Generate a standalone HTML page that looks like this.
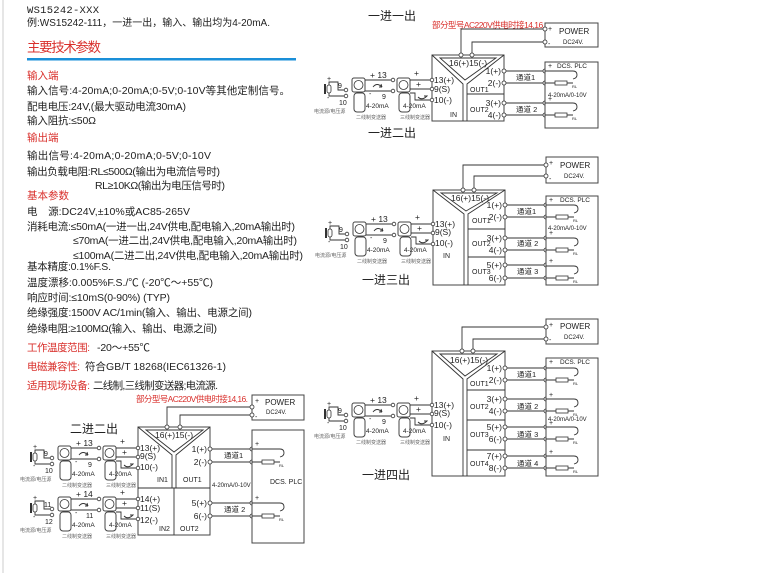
<!DOCTYPE html>
<html><head><meta charset="utf-8"><style>
html,body{margin:0;padding:0;background:#fff;}
svg{display:block;}
text{font-family:"Liberation Sans","Noto Sans CJK SC",sans-serif;fill:#222;}
.r{fill:#d9302c;}
.w{fill:none;stroke:#333;stroke-width:0.9;}
.c{fill:#fff;stroke:#333;stroke-width:0.8;}
.b{fill:#fff;stroke:#444;stroke-width:1;}
.t{font-size:8.5px;}
.s{font-size:7px;}
.xs{font-size:5px;fill:#666;}
.ch{font-size:7.5px;}
</style></head><body>
<svg width="771" height="573" viewBox="0 0 771 573" xmlns="http://www.w3.org/2000/svg">
<line x1="3" y1="0" x2="3" y2="573" stroke="#ccc" stroke-width="1"/>

<!-- LEFT TEXT -->
<text x="27" y="13" style="font-family:'Liberation Mono',monospace;font-size:10.5px" textLength="72">WS15242-XXX</text>
<text x="27" y="26" style="font-size:10px" textLength="243">例:WS15242-111，一进一出，输入、输出均为4-20mA.</text>
<text x="27" y="52" class="r" style="font-size:13.5px" textLength="74">主要技术参数</text>
<rect x="27" y="58" width="269" height="2.5" fill="#1a8fd8"/>
<g style="font-size:10.5px">
<text x="27" y="79" class="r">输入端</text>
<text x="27" y="94" textLength="263">输入信号:4-20mA;0-20mA;0-5V;0-10V等其他定制信号。</text>
<text x="27" y="110" textLength="159">配电电压:24V,(最大驱动电流30mA)</text>
<text x="27" y="124" textLength="69">输入阻抗:≤50Ω</text>
<text x="27" y="141" class="r">输出端</text>
<text x="27" y="159" textLength="184">输出信号:4-20mA;0-20mA;0-5V;0-10V</text>
<text x="27" y="175" textLength="193">输出负载电阻:RL≤500Ω(输出为电流信号时)</text>
<text x="95" y="189" textLength="130">RL≥10KΩ(输出为电压信号时)</text>
<text x="27" y="199" class="r">基本参数</text>
<text x="27" y="215" textLength="163">电　源:DC24V,±10%或AC85-265V</text>
<text x="27" y="230" textLength="268">消耗电流:≤50mA(一进一出,24V供电,配电输入,20mA输出时)</text>
<text x="73" y="244" textLength="224">≤70mA(一进二出,24V供电,配电输入,20mA输出时)</text>
<text x="73" y="259" textLength="230">≤100mA(二进二出,24V供电,配电输入,20mA输出时)</text>
<text x="27" y="270" textLength="84">基本精度:0.1%F.S.</text>
<text x="27" y="286" textLength="186">温度漂移:0.005%F.S./℃ (-20℃～+55℃)</text>
<text x="27" y="301" textLength="143">响应时间:≤10mS(0-90%) (TYP)</text>
<text x="27" y="316" textLength="225">绝缘强度:1500V AC/1min(输入、输出、电源之间)</text>
<text x="27" y="332" textLength="190">绝缘电阻:≥100MΩ(输入、输出、电源之间)</text>
<text x="27" y="351" class="r" textLength="63">工作温度范围:</text>
<text x="97" y="351" textLength="53">-20～+55℃</text>
<text x="27" y="370" class="r" textLength="53">电磁兼容性:</text>
<text x="85" y="370" textLength="141">符合GB/T 18268(IEC61326-1)</text>
<text x="27" y="389" class="r" textLength="63">适用现场设备:</text>
<text x="93" y="389" textLength="125">二线制,三线制变送器;电流源.</text>
</g>

<!-- ================= DIAGRAM 1 ================= -->
<text x="368" y="20" style="font-size:12px">一进一出</text>
<text x="432" y="28" class="r" style="font-size:8.5px" textLength="113">部分型号AC220V供电时接14,16.</text>
<rect x="545" y="23" width="53" height="24" class="b"/>
<text x="548" y="31" class="s">+</text><text x="559" y="34" style="font-size:8px">POWER</text>
<text x="563" y="44" style="font-size:6px">DC24V.</text><text x="548" y="46" class="s">-</text>
<path class="w" d="M461,55 V29 H545 M472,55 V42 H545"/>
<rect x="432" y="55" width="72" height="66" class="b"/>
<path class="w" d="M432,55 L463,84 V121 M504,55 L467,84 V121 M440,58 H496 L465,80 Z M467,94 H504"/>
<text x="449" y="66" class="t">16(+)15(-)</text>
<text x="434" y="83" class="t">13(+)</text><text x="434" y="92" class="t">9(S)</text><text x="434" y="103" class="t">10(-)</text>
<text x="450" y="117" class="s">IN</text>
<text x="470" y="92" class="s">OUT1</text><text x="470" y="112" class="s">OUT2</text>
<g class="t" text-anchor="end"><text x="501" y="74">1(+)</text><text x="501" y="86">2(-)</text><text x="501" y="106">3(+)</text><text x="501" y="118">4(-)</text></g>
<path class="w" d="M504,71 H545 M504,83 H545 M504,103 H545 M504,115 H545"/>
<g class="c"><circle cx="461" cy="55" r="2"/><circle cx="472" cy="55" r="2"/><circle cx="545" cy="29" r="2"/><circle cx="545" cy="42" r="2"/>
<circle cx="504" cy="71" r="2"/><circle cx="504" cy="83" r="2"/><circle cx="504" cy="103" r="2"/><circle cx="504" cy="115" r="2"/>
<circle cx="545" cy="71" r="2"/><circle cx="545" cy="83" r="2"/><circle cx="545" cy="103" r="2"/><circle cx="545" cy="115" r="2"/></g>
<rect x="545" y="62" width="53" height="66" class="b" fill="none"/>
<text x="557" y="68" style="font-size:6.5px">DCS. PLC</text><text x="548" y="68" class="s">+</text>
<text x="548" y="97" style="font-size:6px">4-20mA/0-10V</text><text x="548" y="101" class="s">+</text>
<text x="516" y="80" class="ch">通道1</text><text x="516" y="112" class="ch">通道 2</text>
<g transform="translate(545,71)"><path class="w" d="M0,0 H28 q4,0 4,4 q0,3 -4,4 M0,12 H10 M22,12 H28"/><rect x="10" y="10" width="12" height="4" class="c"/><text x="27" y="17" style="font-size:4px">RL</text></g>
<g transform="translate(545,103)"><path class="w" d="M0,0 H28 q4,0 4,4 q0,3 -4,4 M0,12 H10 M22,12 H28"/><rect x="10" y="10" width="12" height="4" class="c"/><text x="27" y="17" style="font-size:4px">RL</text></g>

<!-- input group diag1 -->
<g id="in1">
<line x1="325" y1="84" x2="325" y2="94" stroke="#333" stroke-width="2"/>
<rect x="327" y="85" width="4" height="8" rx="2" class="c"/>
<text x="327" y="81" class="s">+</text><text x="327" y="100" class="s">-</text>
<path class="w" d="M329,85 V82 H338 V90 H344 M329,93 V96 H344"/>
<circle cx="346" cy="90" r="1.8" class="c"/><circle cx="346" cy="96" r="1.8" class="c"/>
<text x="338" y="88" class="s">9</text><text x="339" y="105" class="s">10</text>
<text x="314" y="113" class="xs">电流源/电压源</text>
<rect x="352" y="78" width="13" height="14" rx="2" class="b"/><circle cx="358.5" cy="85" r="4.5" class="c"/>
<rect x="354" y="93" width="11" height="19" rx="3" class="b"/>
<path class="w" d="M365,80 H391 M365,91 H391 M373,87 q4,-5 9,0 l-1,-3 M382,87 l-3,0"/>
<circle cx="393" cy="80" r="1.8" class="c"/><circle cx="393" cy="91" r="1.8" class="c"/>
<text x="370" y="78" class="t">+ 13</text><text x="382" y="99" class="s">9</text><text x="369" y="96" class="s">-</text>
<text x="366" y="108" style="font-size:6.5px">4-20mA</text>
<text x="356" y="119" class="xs">二线制变送器</text>
<rect x="397" y="78" width="13" height="14" rx="2" class="b"/><circle cx="403.5" cy="85" r="4.5" class="c"/>
<rect x="399" y="93" width="11" height="19" rx="3" class="b"/>
<path class="w" d="M410,80 H430 M410,89 H430 M410,93 H415 V100 H430 M418,97 q4,4 9,-1 l-3,0"/>
<circle cx="432" cy="80" r="1.8" class="c"/><circle cx="432" cy="89" r="1.8" class="c"/><circle cx="432" cy="100" r="1.8" class="c"/>
<text x="414" y="76" class="t">+</text><text x="416" y="87" class="t">+</text>
<text x="403" y="108" style="font-size:6.5px">4-20mA</text>
<text x="400" y="119" class="xs">三线制变送器</text>
</g>

<!-- ================= DIAGRAM 2 ================= -->
<text x="368" y="137" style="font-size:12px">一进二出</text>
<rect x="546" y="157" width="52" height="26" class="b"/>
<text x="549" y="165" class="s">+</text><text x="560" y="168" style="font-size:8px">POWER</text>
<text x="564" y="178" style="font-size:6px">DC24V.</text><text x="549" y="181" class="s">-</text>
<path class="w" d="M463,190 V165 H546 M474,190 V176 H546"/>
<rect x="433" y="190" width="72" height="95" class="b"/>
<path class="w" d="M433,190 L464,214 V285 M505,190 L468,214 V285 M441,193 H497 L466,211 Z M468,229 H505 M468,257 H505"/>
<text x="451" y="201" class="t">16(+)15(-)</text>
<text x="435" y="227" class="t">13(+)</text><text x="435" y="235" class="t">9(S)</text><text x="435" y="246" class="t">10(-)</text>
<text x="443" y="258" class="s">IN</text>
<text x="472" y="223" class="s">OUT1</text><text x="472" y="246" class="s">OUT2</text><text x="472" y="274" class="s">OUT3</text>
<g class="t" text-anchor="end"><text x="502" y="208">1(+)</text><text x="502" y="220">2(-)</text><text x="502" y="241">3(+)</text><text x="502" y="253">4(-)</text><text x="502" y="268">5(+)</text><text x="502" y="281">6(-)</text></g>
<path class="w" d="M505,205 H546 M505,217 H546 M505,238 H546 M505,250 H546 M505,265 H546 M505,278 H546"/>
<g class="c"><circle cx="463" cy="190" r="2"/><circle cx="474" cy="190" r="2"/><circle cx="546" cy="165" r="2"/><circle cx="546" cy="176" r="2"/>
<circle cx="505" cy="205" r="2"/><circle cx="505" cy="217" r="2"/><circle cx="505" cy="238" r="2"/><circle cx="505" cy="250" r="2"/><circle cx="505" cy="265" r="2"/><circle cx="505" cy="278" r="2"/>
<circle cx="546" cy="205" r="2"/><circle cx="546" cy="217" r="2"/><circle cx="546" cy="238" r="2"/><circle cx="546" cy="250" r="2"/><circle cx="546" cy="265" r="2"/><circle cx="546" cy="278" r="2"/></g>
<rect x="546" y="196" width="52" height="89" class="b" fill="none"/>
<text x="560" y="202" style="font-size:6.5px">DCS. PLC</text><text x="549" y="202" class="s">+</text>
<text x="548" y="230" style="font-size:6px">4-20mA/0-10V</text><text x="549" y="235" class="s">+</text><text x="549" y="263" class="s">+</text>
<text x="517" y="214" class="ch">通道1</text><text x="517" y="246" class="ch">通道 2</text><text x="517" y="274" class="ch">通道 3</text>
<g transform="translate(546,205)"><path class="w" d="M0,0 H28 q4,0 4,4 q0,3 -4,4 M0,12 H10 M22,12 H28"/><rect x="10" y="10" width="12" height="4" class="c"/><text x="27" y="17" style="font-size:4px">RL</text></g>
<g transform="translate(546,238)"><path class="w" d="M0,0 H28 q4,0 4,4 q0,3 -4,4 M0,12 H10 M22,12 H28"/><rect x="10" y="10" width="12" height="4" class="c"/><text x="27" y="17" style="font-size:4px">RL</text></g>
<g transform="translate(546,266)"><path class="w" d="M0,0 H28 q4,0 4,4 q0,3 -4,4 M0,12 H10 M22,12 H28"/><rect x="10" y="10" width="12" height="4" class="c"/><text x="27" y="17" style="font-size:4px">RL</text></g>
<text x="362" y="284" style="font-size:12px">一进三出</text>

<g transform="translate(1,144)">
<line x1="325" y1="84" x2="325" y2="94" stroke="#333" stroke-width="2"/>
<rect x="327" y="85" width="4" height="8" rx="2" class="c"/>
<text x="327" y="81" class="s">+</text><text x="327" y="100" class="s">-</text>
<path class="w" d="M329,85 V82 H338 V90 H344 M329,93 V96 H344"/>
<circle cx="346" cy="90" r="1.8" class="c"/><circle cx="346" cy="96" r="1.8" class="c"/>
<text x="338" y="88" class="s">9</text><text x="339" y="105" class="s">10</text>
<text x="314" y="113" class="xs">电流源/电压源</text>
<rect x="352" y="78" width="13" height="14" rx="2" class="b"/><circle cx="358.5" cy="85" r="4.5" class="c"/>
<rect x="354" y="93" width="11" height="19" rx="3" class="b"/>
<path class="w" d="M365,80 H391 M365,91 H391 M373,87 q4,-5 9,0 l-1,-3 M382,87 l-3,0"/>
<circle cx="393" cy="80" r="1.8" class="c"/><circle cx="393" cy="91" r="1.8" class="c"/>
<text x="370" y="78" class="t">+ 13</text><text x="382" y="99" class="s">9</text><text x="369" y="96" class="s">-</text>
<text x="366" y="108" style="font-size:6.5px">4-20mA</text>
<text x="356" y="119" class="xs">二线制变送器</text>
<rect x="397" y="78" width="13" height="14" rx="2" class="b"/><circle cx="403.5" cy="85" r="4.5" class="c"/>
<rect x="399" y="93" width="11" height="19" rx="3" class="b"/>
<path class="w" d="M410,80 H430 M410,89 H430 M410,93 H415 V100 H430 M418,97 q4,4 9,-1 l-3,0"/>
<circle cx="432" cy="80" r="1.8" class="c"/><circle cx="432" cy="89" r="1.8" class="c"/><circle cx="432" cy="100" r="1.8" class="c"/>
<text x="414" y="76" class="t">+</text><text x="416" y="87" class="t">+</text>
<text x="403" y="108" style="font-size:6.5px">4-20mA</text>
<text x="400" y="119" class="xs">三线制变送器</text>
</g>

<!-- ================= DIAGRAM 3 ================= -->
<rect x="546" y="319" width="52" height="25" class="b"/>
<text x="549" y="327" class="s">+</text><text x="560" y="329" style="font-size:8px">POWER</text>
<text x="564" y="339" style="font-size:6px">DC24V.</text><text x="549" y="342" class="s">-</text>
<path class="w" d="M462,351 V327 H546 M473,351 V339 H546"/>
<rect x="432" y="351" width="73" height="125" class="b"/>
<path class="w" d="M432,351 L463,379 V476 M505,351 L467,379 V476 M440,354 H497 L465,376 Z M467,390 H505 M467,420 H505 M467,450 H505"/>
<text x="450" y="363" class="t">16(+)15(-)</text>
<text x="434" y="408" class="t">13(+)</text><text x="434" y="416" class="t">9(S)</text><text x="434" y="428" class="t">10(-)</text>
<text x="443" y="441" class="s">IN</text>
<text x="470" y="386" class="s">OUT1</text><text x="470" y="409" class="s">OUT2</text><text x="470" y="437" class="s">OUT3</text><text x="470" y="466" class="s">OUT4</text>
<g class="t" text-anchor="end"><text x="502" y="371">1(+)</text><text x="502" y="383">2(-)</text><text x="502" y="402">3(+)</text><text x="502" y="414">4(-)</text><text x="502" y="430">5(+)</text><text x="502" y="442">6(-)</text><text x="502" y="459">7(+)</text><text x="502" y="471">8(-)</text></g>
<path class="w" d="M505,368 H546 M505,380 H546 M505,399 H546 M505,411 H546 M505,427 H546 M505,439 H546 M505,456 H546 M505,468 H546"/>
<g class="c"><circle cx="462" cy="351" r="2"/><circle cx="473" cy="351" r="2"/><circle cx="546" cy="327" r="2"/><circle cx="546" cy="339" r="2"/>
<circle cx="505" cy="368" r="2"/><circle cx="505" cy="380" r="2"/><circle cx="505" cy="399" r="2"/><circle cx="505" cy="411" r="2"/><circle cx="505" cy="427" r="2"/><circle cx="505" cy="439" r="2"/><circle cx="505" cy="456" r="2"/><circle cx="505" cy="468" r="2"/>
<circle cx="546" cy="368" r="2"/><circle cx="546" cy="380" r="2"/><circle cx="546" cy="399" r="2"/><circle cx="546" cy="411" r="2"/><circle cx="546" cy="427" r="2"/><circle cx="546" cy="439" r="2"/><circle cx="546" cy="456" r="2"/><circle cx="546" cy="468" r="2"/></g>
<rect x="546" y="358" width="52" height="118" class="b" fill="none"/>
<text x="560" y="364" style="font-size:6.5px">DCS. PLC</text><text x="549" y="364" class="s">+</text>
<text x="548" y="421" style="font-size:6px">4-20mA/0-10V</text><text x="549" y="397" class="s">+</text><text x="549" y="425" class="s">+</text><text x="549" y="454" class="s">+</text>
<text x="517" y="377" class="ch">通道1</text><text x="517" y="409" class="ch">通道 2</text><text x="517" y="437" class="ch">通道 3</text><text x="517" y="466" class="ch">通道 4</text>
<g transform="translate(546,368)"><path class="w" d="M0,0 H28 q4,0 4,4 q0,3 -4,4 M0,12 H10 M22,12 H28"/><rect x="10" y="10" width="12" height="4" class="c"/><text x="27" y="17" style="font-size:4px">RL</text></g>
<g transform="translate(546,399)"><path class="w" d="M0,0 H28 q4,0 4,4 q0,3 -4,4 M0,12 H10 M22,12 H28"/><rect x="10" y="10" width="12" height="4" class="c"/><text x="27" y="17" style="font-size:4px">RL</text></g>
<g transform="translate(546,427)"><path class="w" d="M0,0 H28 q4,0 4,4 q0,3 -4,4 M0,12 H10 M22,12 H28"/><rect x="10" y="10" width="12" height="4" class="c"/><text x="27" y="17" style="font-size:4px">RL</text></g>
<g transform="translate(546,456)"><path class="w" d="M0,0 H28 q4,0 4,4 q0,3 -4,4 M0,12 H10 M22,12 H28"/><rect x="10" y="10" width="12" height="4" class="c"/><text x="27" y="17" style="font-size:4px">RL</text></g>
<text x="362" y="479" style="font-size:12px">一进四出</text>

<g transform="translate(0,325)">
<line x1="325" y1="84" x2="325" y2="94" stroke="#333" stroke-width="2"/>
<rect x="327" y="85" width="4" height="8" rx="2" class="c"/>
<text x="327" y="81" class="s">+</text><text x="327" y="100" class="s">-</text>
<path class="w" d="M329,85 V82 H338 V90 H344 M329,93 V96 H344"/>
<circle cx="346" cy="90" r="1.8" class="c"/><circle cx="346" cy="96" r="1.8" class="c"/>
<text x="338" y="88" class="s">9</text><text x="339" y="105" class="s">10</text>
<text x="314" y="113" class="xs">电流源/电压源</text>
<rect x="352" y="78" width="13" height="14" rx="2" class="b"/><circle cx="358.5" cy="85" r="4.5" class="c"/>
<rect x="354" y="93" width="11" height="19" rx="3" class="b"/>
<path class="w" d="M365,80 H391 M365,91 H391 M373,87 q4,-5 9,0 l-1,-3 M382,87 l-3,0"/>
<circle cx="393" cy="80" r="1.8" class="c"/><circle cx="393" cy="91" r="1.8" class="c"/>
<text x="370" y="78" class="t">+ 13</text><text x="382" y="99" class="s">9</text><text x="369" y="96" class="s">-</text>
<text x="366" y="108" style="font-size:6.5px">4-20mA</text>
<text x="356" y="119" class="xs">二线制变送器</text>
<rect x="397" y="78" width="13" height="14" rx="2" class="b"/><circle cx="403.5" cy="85" r="4.5" class="c"/>
<rect x="399" y="93" width="11" height="19" rx="3" class="b"/>
<path class="w" d="M410,80 H430 M410,89 H430 M410,93 H415 V100 H430 M418,97 q4,4 9,-1 l-3,0"/>
<circle cx="432" cy="80" r="1.8" class="c"/><circle cx="432" cy="89" r="1.8" class="c"/><circle cx="432" cy="100" r="1.8" class="c"/>
<text x="414" y="76" class="t">+</text><text x="416" y="87" class="t">+</text>
<text x="403" y="108" style="font-size:6.5px">4-20mA</text>
<text x="400" y="119" class="xs">三线制变送器</text>
</g>

<!-- ================= DIAGRAM 4 ================= -->
<text x="136" y="402" class="r" style="font-size:8.5px" textLength="112">部分型号AC220V供电时接14,16.</text>
<rect x="252" y="395" width="52" height="25" class="b"/>
<text x="255" y="403" class="s">+</text><text x="265" y="405" style="font-size:8px">POWER</text>
<text x="266" y="414" style="font-size:6px">DC24V.</text><text x="255" y="419" class="s">-</text>
<path class="w" d="M167,427 V407 H252 M180,427 V415 H252"/>
<text x="70" y="433" style="font-size:12px">二进二出</text>
<rect x="138" y="427" width="72" height="108" class="b"/>
<path class="w" d="M138,427 L172,455 V488 M210,427 L176,455 V488 M146,430 H203 L174,452 Z M138,488 H210 M174,488 V535"/>
<text x="155" y="438" class="t">16(+)15(-)</text>
<text x="140" y="451" class="t">13(+)</text><text x="140" y="459" class="t">9(S)</text><text x="140" y="470" class="t">10(-)</text>
<text x="140" y="502" class="t">14(+)</text><text x="140" y="511" class="t">11(S)</text><text x="140" y="523" class="t">12(-)</text>
<text x="157" y="482" class="s">IN1</text><text x="183" y="482" class="s">OUT1</text>
<text x="159" y="531" class="s">IN2</text><text x="180" y="531" class="s">OUT2</text>
<g class="t" text-anchor="end"><text x="207" y="452">1(+)</text><text x="207" y="465">2(-)</text><text x="207" y="506">5(+)</text><text x="207" y="519">6(-)</text></g>
<path class="w" d="M210,449 H252 M210,462 H252 M210,503 H252 M210,516 H252"/>
<g class="c"><circle cx="167" cy="427" r="2"/><circle cx="180" cy="427" r="2"/><circle cx="252" cy="407" r="2"/><circle cx="252" cy="415" r="2"/>
<circle cx="210" cy="449" r="2"/><circle cx="210" cy="462" r="2"/><circle cx="210" cy="503" r="2"/><circle cx="210" cy="516" r="2"/>
<circle cx="252" cy="449" r="2"/><circle cx="252" cy="462" r="2"/><circle cx="252" cy="503" r="2"/><circle cx="252" cy="516" r="2"/></g>
<rect x="252" y="430" width="52" height="113" class="b" fill="none"/>
<text x="270" y="484" style="font-size:7px">DCS. PLC</text>
<text x="212" y="487" style="font-size:6px">4-20mA/0-10V</text>
<text x="255" y="446" class="s">+</text><text x="255" y="500" class="s">+</text>
<text x="224" y="458" class="ch">通道1</text><text x="224" y="512" class="ch">通道 2</text>
<g transform="translate(252,449)"><path class="w" d="M0,0 H28 q4,0 4,4 q0,3 -4,4 M0,13 H10 M22,13 H28"/><rect x="10" y="11" width="12" height="4" class="c"/><text x="27" y="18" style="font-size:4px">RL</text></g>
<g transform="translate(252,503)"><path class="w" d="M0,0 H28 q4,0 4,4 q0,3 -4,4 M0,13 H10 M22,13 H28"/><rect x="10" y="11" width="12" height="4" class="c"/><text x="27" y="18" style="font-size:4px">RL</text></g>

<g transform="translate(-294,368)">
<line x1="325" y1="84" x2="325" y2="94" stroke="#333" stroke-width="2"/>
<rect x="327" y="85" width="4" height="8" rx="2" class="c"/>
<text x="327" y="81" class="s">+</text><text x="327" y="100" class="s">-</text>
<path class="w" d="M329,85 V82 H338 V90 H344 M329,93 V96 H344"/>
<circle cx="346" cy="90" r="1.8" class="c"/><circle cx="346" cy="96" r="1.8" class="c"/>
<text x="338" y="88" class="s">9</text><text x="339" y="105" class="s">10</text>
<text x="314" y="113" class="xs">电流源/电压源</text>
<rect x="352" y="78" width="13" height="14" rx="2" class="b"/><circle cx="358.5" cy="85" r="4.5" class="c"/>
<rect x="354" y="93" width="11" height="19" rx="3" class="b"/>
<path class="w" d="M365,80 H391 M365,91 H391 M373,87 q4,-5 9,0 l-1,-3 M382,87 l-3,0"/>
<circle cx="393" cy="80" r="1.8" class="c"/><circle cx="393" cy="91" r="1.8" class="c"/>
<text x="370" y="78" class="t">+ 13</text><text x="382" y="99" class="s">9</text><text x="369" y="96" class="s">-</text>
<text x="366" y="108" style="font-size:6.5px">4-20mA</text>
<text x="356" y="119" class="xs">二线制变送器</text>
<rect x="397" y="78" width="13" height="14" rx="2" class="b"/><circle cx="403.5" cy="85" r="4.5" class="c"/>
<rect x="399" y="93" width="11" height="19" rx="3" class="b"/>
<path class="w" d="M410,80 H430 M410,89 H430 M410,93 H415 V100 H430 M418,97 q4,4 9,-1 l-3,0"/>
<circle cx="432" cy="80" r="1.8" class="c"/><circle cx="432" cy="89" r="1.8" class="c"/><circle cx="432" cy="100" r="1.8" class="c"/>
<text x="414" y="76" class="t">+</text><text x="416" y="87" class="t">+</text>
<text x="403" y="108" style="font-size:6.5px">4-20mA</text>
<text x="400" y="119" class="xs">三线制变送器</text>
</g>

<g transform="translate(-294,419)">
<line x1="325" y1="84" x2="325" y2="94" stroke="#333" stroke-width="2"/>
<rect x="327" y="85" width="4" height="8" rx="2" class="c"/>
<text x="327" y="81" class="s">+</text><text x="327" y="100" class="s">-</text>
<path class="w" d="M329,85 V82 H338 V90 H344 M329,93 V96 H344"/>
<circle cx="346" cy="90" r="1.8" class="c"/><circle cx="346" cy="96" r="1.8" class="c"/>
<text x="338" y="88" class="s">11</text><text x="339" y="105" class="s">12</text>
<text x="314" y="113" class="xs">电流源/电压源</text>
<rect x="352" y="78" width="13" height="14" rx="2" class="b"/><circle cx="358.5" cy="85" r="4.5" class="c"/>
<rect x="354" y="93" width="11" height="19" rx="3" class="b"/>
<path class="w" d="M365,80 H391 M365,91 H391 M373,87 q4,-5 9,0 l-1,-3 M382,87 l-3,0"/>
<circle cx="393" cy="80" r="1.8" class="c"/><circle cx="393" cy="91" r="1.8" class="c"/>
<text x="370" y="78" class="t">+ 14</text><text x="380" y="99" class="s">11</text><text x="369" y="96" class="s">-</text>
<text x="366" y="108" style="font-size:6.5px">4-20mA</text>
<text x="356" y="119" class="xs">二线制变送器</text>
<rect x="397" y="78" width="13" height="14" rx="2" class="b"/><circle cx="403.5" cy="85" r="4.5" class="c"/>
<rect x="399" y="93" width="11" height="19" rx="3" class="b"/>
<path class="w" d="M410,80 H430 M410,89 H430 M410,93 H415 V100 H430 M418,97 q4,4 9,-1 l-3,0"/>
<circle cx="432" cy="80" r="1.8" class="c"/><circle cx="432" cy="89" r="1.8" class="c"/><circle cx="432" cy="100" r="1.8" class="c"/>
<text x="414" y="76" class="t">+</text><text x="416" y="87" class="t">+</text>
<text x="403" y="108" style="font-size:6.5px">4-20mA</text>
<text x="400" y="119" class="xs">三线制变送器</text>
</g>
</svg>
</body></html>
